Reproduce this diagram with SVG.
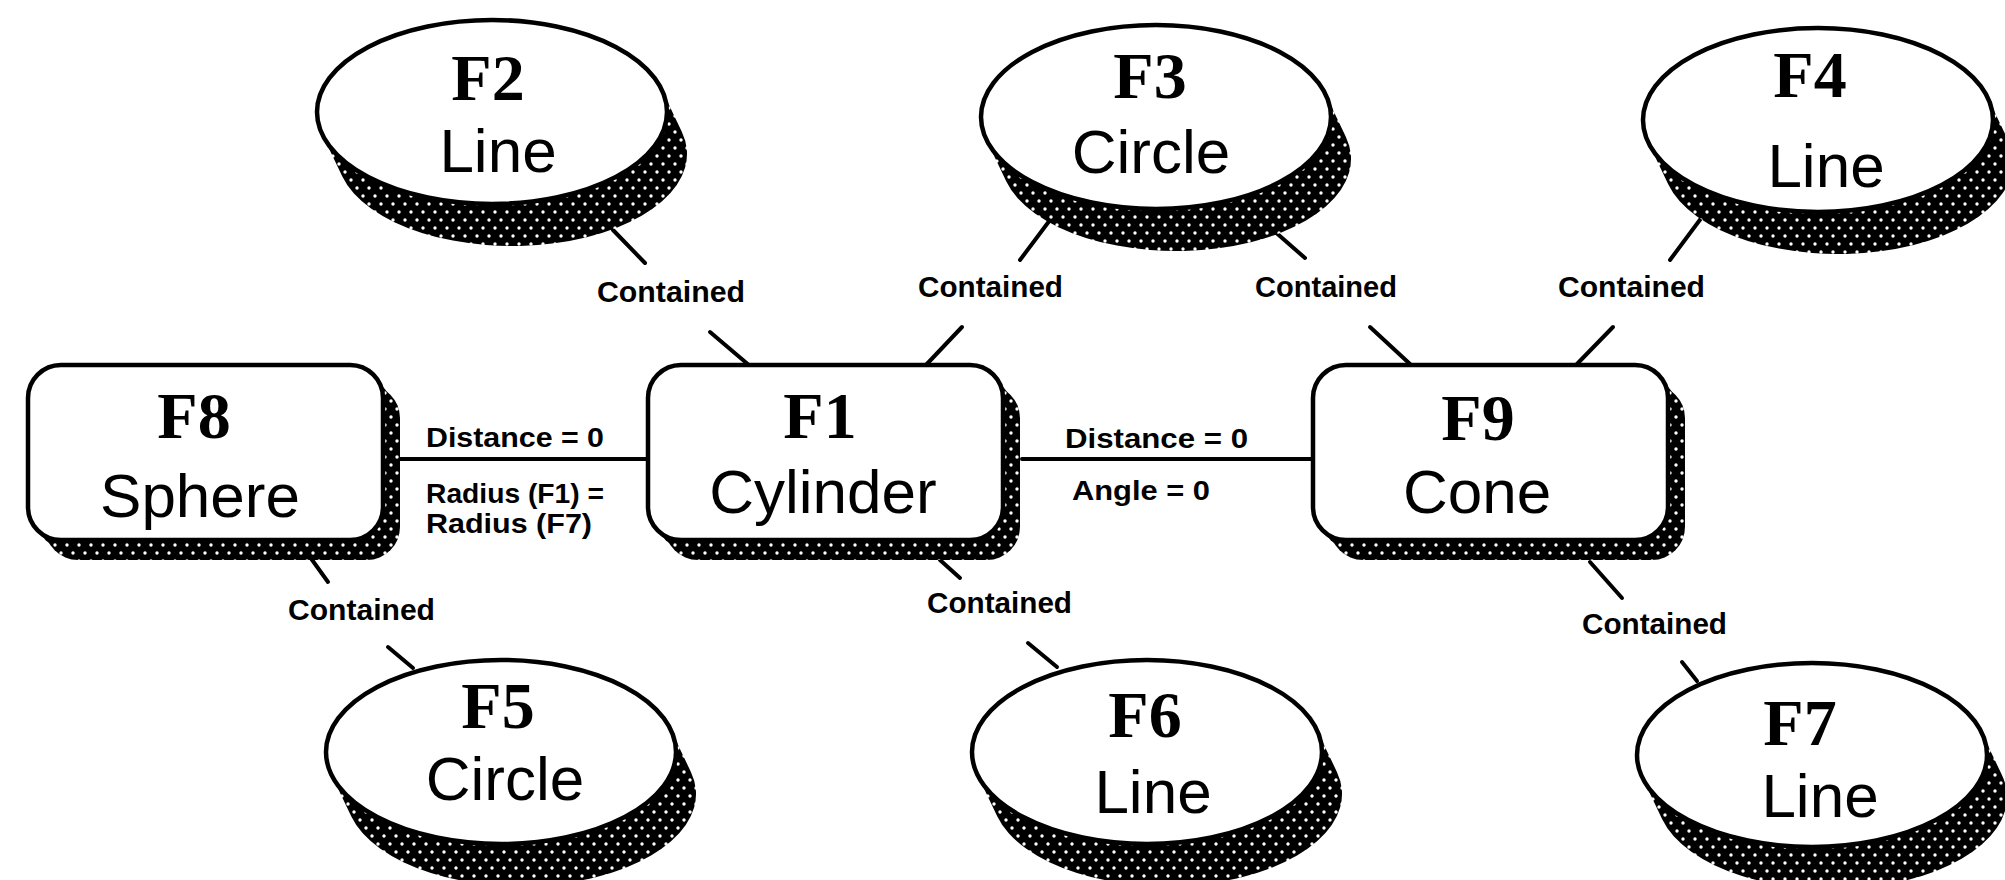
<svg xmlns="http://www.w3.org/2000/svg" width="2005" height="880" viewBox="0 0 2005 880">
  <defs>
    <!-- halftone fill used for the extruded shadows -->
    <pattern id="halftone" width="12" height="16" patternUnits="userSpaceOnUse">
      <rect width="12" height="16" fill="#000"/>
      <circle cx="3" cy="4" r="1.7" fill="#fff"/>
      <circle cx="9" cy="12" r="1.7" fill="#fff"/>
    </pattern>
    <!-- swept hull of a 175x92 ellipse moved by (20,42) -->
    <path id="disc-shadow" d="M -169.8 22.3 L -149.8 64.3 A 175 92 0 0 0 189.8 19.7 L 169.8 -22.3 A 175 92 0 0 1 -169.8 22.3 Z"/>
    <!-- drop shadow of a rounded feature box -->
    <g id="box-shadow">
      <rect x="8" y="10" width="355" height="175" rx="33" ry="33"/>
      <rect x="17" y="20" width="355" height="175" rx="33" ry="33"/>
    </g>
  </defs>
  <style>
    .face { fill: #fff; stroke: #000; stroke-width: 4.5; }
    .id { font-family: "Liberation Serif", "Times New Roman", serif; font-weight: bold; font-size: 66px; text-anchor: middle; fill: #000; }
    .kind { font-family: "Liberation Sans", Arial, sans-serif; font-size: 62px; text-anchor: middle; fill: #000; }
    .rel { font-family: "Liberation Sans", Arial, sans-serif; font-weight: bold; font-size: 28px; fill: #000; }
    .tag { font-family: "Liberation Sans", Arial, sans-serif; font-weight: bold; font-size: 29px; fill: #000; }
    .wire { stroke: #000; stroke-width: 4; stroke-linecap: round; fill: none; }
  </style>

  <rect width="2005" height="880" fill="#fff"/>

  <!-- connectors and their labels -->
  <g id="connectors">
    <!-- F8 - F1 -->
    <line class="wire" x1="400" y1="459" x2="648" y2="459"/>
    <text class="rel" x="426" y="447" textLength="178" lengthAdjust="spacingAndGlyphs">Distance = 0</text>
    <text class="rel" x="426" y="503" textLength="178" lengthAdjust="spacingAndGlyphs">Radius (F1) =</text>
    <text class="rel" x="426" y="533" textLength="166" lengthAdjust="spacingAndGlyphs">Radius (F7)</text>

    <!-- F1 - F9 -->
    <line class="wire" x1="1022" y1="459" x2="1313" y2="459"/>
    <text class="rel" x="1065" y="448" textLength="183" lengthAdjust="spacingAndGlyphs">Distance = 0</text>
    <text class="rel" x="1072" y="500" textLength="138" lengthAdjust="spacingAndGlyphs">Angle = 0</text>

    <!-- F2 contained in F1 -->
    <line class="wire" x1="613" y1="230" x2="645" y2="263"/>
    <text class="tag" x="597" y="302" textLength="148" lengthAdjust="spacingAndGlyphs">Contained</text>
    <line class="wire" x1="710" y1="332" x2="750" y2="366"/>

    <!-- F3 contained in F1 -->
    <line class="wire" x1="1050" y1="220" x2="1020" y2="260"/>
    <text class="tag" x="918" y="297" textLength="145" lengthAdjust="spacingAndGlyphs">Contained</text>
    <line class="wire" x1="962" y1="327" x2="925" y2="366"/>

    <!-- F3 contained in F9 -->
    <line class="wire" x1="1273" y1="230" x2="1305" y2="258"/>
    <text class="tag" x="1255" y="297" textLength="142" lengthAdjust="spacingAndGlyphs">Contained</text>
    <line class="wire" x1="1370" y1="327" x2="1410" y2="364"/>

    <!-- F4 contained in F9 -->
    <line class="wire" x1="1705" y1="213" x2="1670" y2="260"/>
    <text class="tag" x="1558" y="297" textLength="147" lengthAdjust="spacingAndGlyphs">Contained</text>
    <line class="wire" x1="1613" y1="327" x2="1577" y2="364"/>

    <!-- F5 contained in F8 -->
    <line class="wire" x1="310" y1="557" x2="328" y2="582"/>
    <text class="tag" x="288" y="620" textLength="147" lengthAdjust="spacingAndGlyphs">Contained</text>
    <line class="wire" x1="388" y1="647" x2="413" y2="668"/>

    <!-- F6 contained in F1 -->
    <line class="wire" x1="940" y1="560" x2="960" y2="578"/>
    <text class="tag" x="927" y="613" textLength="145" lengthAdjust="spacingAndGlyphs">Contained</text>
    <line class="wire" x1="1028" y1="643" x2="1057" y2="667"/>

    <!-- F7 contained in F9 -->
    <line class="wire" x1="1590" y1="562" x2="1622" y2="598"/>
    <text class="tag" x="1582" y="634" textLength="145" lengthAdjust="spacingAndGlyphs">Contained</text>
    <line class="wire" x1="1682" y1="662" x2="1697" y2="681"/>
  </g>

  <!-- feature boxes -->
  <g id="F8" transform="translate(28,365)">
    <use href="#box-shadow" fill="url(#halftone)"/>
    <rect class="face" width="355" height="175" rx="33" ry="33"/>
    <text class="id" x="166" y="73">F8</text>
    <text class="kind" x="172" y="152">Sphere</text>
  </g>

  <g id="F1" transform="translate(648,365)">
    <use href="#box-shadow" fill="url(#halftone)"/>
    <rect class="face" width="355" height="175" rx="33" ry="33"/>
    <text class="id" x="172" y="73">F1</text>
    <text class="kind" x="175" y="148">Cylinder</text>
  </g>

  <g id="F9" transform="translate(1313,365)">
    <use href="#box-shadow" fill="url(#halftone)"/>
    <rect class="face" width="355" height="175" rx="33" ry="33"/>
    <text class="id" x="165" y="75">F9</text>
    <text class="kind" x="164" y="148">Cone</text>
  </g>

  <!-- feature discs -->
  <g id="F2" transform="translate(492,112)">
    <use href="#disc-shadow" fill="url(#halftone)"/>
    <ellipse class="face" rx="175" ry="92"/>
    <text class="id" x="-4" y="-12">F2</text>
    <text class="kind" x="6" y="60">Line</text>
  </g>

  <g id="F3" transform="translate(1156,117)">
    <use href="#disc-shadow" fill="url(#halftone)"/>
    <ellipse class="face" rx="175" ry="92"/>
    <text class="id" x="-6" y="-19">F3</text>
    <text class="kind" x="-5" y="56">Circle</text>
  </g>

  <g id="F4" transform="translate(1818,120)">
    <use href="#disc-shadow" fill="url(#halftone)"/>
    <ellipse class="face" rx="175" ry="92"/>
    <text class="id" x="-8" y="-23">F4</text>
    <text class="kind" x="8" y="67">Line</text>
  </g>

  <g id="F5" transform="translate(501,752)">
    <use href="#disc-shadow" fill="url(#halftone)"/>
    <ellipse class="face" rx="175" ry="92"/>
    <text class="id" x="-3" y="-24">F5</text>
    <text class="kind" x="4" y="48">Circle</text>
  </g>

  <g id="F6" transform="translate(1147,752)">
    <use href="#disc-shadow" fill="url(#halftone)"/>
    <ellipse class="face" rx="175" ry="92"/>
    <text class="id" x="-2" y="-15">F6</text>
    <text class="kind" x="6" y="61">Line</text>
  </g>

  <g id="F7" transform="translate(1812,755)">
    <use href="#disc-shadow" fill="url(#halftone)"/>
    <ellipse class="face" rx="175" ry="92"/>
    <text class="id" x="-12" y="-10">F7</text>
    <text class="kind" x="8" y="62">Line</text>
  </g>
</svg>
